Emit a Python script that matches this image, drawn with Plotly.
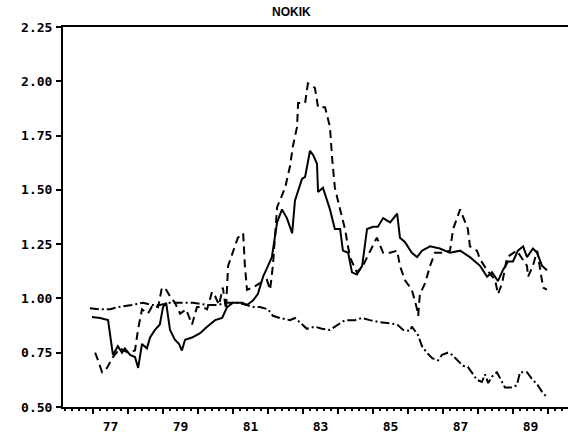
import plotly.graph_objects as go

# ---- data (year as decimal, ratio value) ----
solid_x = [76.97, 77.20, 77.43, 77.51, 77.57, 77.71, 77.83, 77.91, 78.06, 78.20, 78.29, 78.40, 78.54, 78.63,
           78.77, 78.91, 79.00, 79.09, 79.20, 79.34, 79.46, 79.54, 79.63, 79.83, 80.06, 80.26, 80.49, 80.69,
           80.83, 81.00, 81.26, 81.40, 81.57, 81.71, 81.86, 82.00, 82.11, 82.26, 82.40, 82.54, 82.69, 82.77,
           82.97, 83.06, 83.20, 83.29, 83.40, 83.43, 83.57, 83.77, 83.91, 84.06, 84.14, 84.29, 84.40, 84.54,
           84.69, 84.83, 85.00, 85.14, 85.29, 85.49, 85.69, 85.77, 85.91, 86.11, 86.26, 86.40, 86.63, 86.91,
           87.20, 87.49, 87.77, 88.06, 88.26, 88.40, 88.57, 88.71, 88.86, 89.00, 89.14, 89.29, 89.40, 89.57,
           89.69, 89.83, 89.97]
solid_y = [0.915, 0.91, 0.90, 0.80, 0.74, 0.78, 0.75, 0.77, 0.74, 0.73, 0.68, 0.79, 0.77, 0.82,
           0.855, 0.88, 0.96, 0.98, 0.855, 0.81, 0.79, 0.76, 0.81, 0.82, 0.84, 0.87, 0.90, 0.91,
           0.96, 0.98, 0.98, 0.97, 0.99, 1.02, 1.10, 1.15, 1.19, 1.35, 1.41, 1.37, 1.30, 1.45,
           1.55, 1.56, 1.68, 1.66, 1.62, 1.49, 1.51, 1.41, 1.32, 1.32, 1.22, 1.21, 1.12, 1.11,
           1.15, 1.32, 1.33, 1.33, 1.37, 1.35, 1.39, 1.28, 1.26, 1.21, 1.19, 1.22, 1.24, 1.23,
           1.21, 1.22, 1.19, 1.15, 1.10, 1.12, 1.08, 1.13, 1.17, 1.17, 1.22, 1.24, 1.19, 1.23,
           1.21, 1.15, 1.13]

dash_x = [77.06, 77.11, 77.26, 77.40, 77.57, 77.77, 78.00, 78.20, 78.29, 78.40, 78.57, 78.71, 78.86, 78.97,
          79.09, 79.20, 79.34, 79.49, 79.66, 79.83, 79.97, 80.14, 80.26, 80.40, 80.49, 80.60, 80.71, 80.80,
          80.86, 81.00, 81.14, 81.29, 81.34, 81.40, 81.57, 81.77, 81.97, 82.06, 82.14, 82.26, 82.49, 82.63,
          82.71, 82.83, 82.86, 83.06, 83.14, 83.34, 83.43, 83.63, 83.77, 83.83, 83.91, 84.06, 84.20, 84.34,
          84.54, 84.71, 85.00, 85.11, 85.29, 85.49, 85.69, 85.77, 85.91, 86.11, 86.26, 86.29, 86.34, 86.49,
          86.63, 86.77, 86.97, 87.20, 87.29, 87.49, 87.71, 87.77, 87.97, 88.06, 88.26, 88.49, 88.57, 88.69,
          88.83, 89.11, 89.40, 89.43, 89.57, 89.69, 89.86, 89.97]
dash_y = [0.75, 0.73, 0.66, 0.68, 0.73, 0.77, 0.75, 0.76, 0.86, 0.95, 0.93, 0.97, 0.96, 1.05,
          1.04, 1.01, 0.98, 0.93, 0.95, 0.88, 0.96, 0.96, 0.95, 1.03, 1.01, 0.97, 1.05, 0.95,
          1.15, 1.22, 1.28, 1.30, 1.15, 1.04, 1.05, 1.07, 1.085, 1.04, 1.15, 1.42, 1.51, 1.61,
          1.70, 1.79, 1.90, 1.90, 1.99, 1.97, 1.88, 1.88, 1.79, 1.65, 1.51, 1.41, 1.32, 1.19,
          1.12, 1.15, 1.24, 1.28, 1.21, 1.21, 1.22, 1.15, 1.085, 1.04, 0.95, 0.92, 1.02, 1.07,
          1.15, 1.21, 1.21, 1.22, 1.32, 1.41, 1.32, 1.24, 1.22, 1.18, 1.13, 1.085, 1.02, 1.07,
          1.19, 1.22, 1.15, 1.10, 1.15, 1.22, 1.05, 1.04]

dashdot_x = [76.91, 77.20, 77.49, 77.71, 78.11, 78.43, 78.69, 78.91, 79.20, 79.57, 79.86, 80.26, 80.54, 80.83,
             81.11, 81.40, 81.57, 81.77, 82.00, 82.14, 82.34, 82.63, 82.77, 82.91, 83.11, 83.34, 83.54, 83.77,
             84.00, 84.20, 84.49, 84.69, 84.91, 85.20, 85.49, 85.69, 85.86, 86.06, 86.11, 86.29, 86.40, 86.54,
             86.69, 86.86, 86.97, 87.14, 87.26, 87.43, 87.57, 87.71, 87.83, 87.97, 88.11, 88.20, 88.29, 88.40,
             88.54, 88.63, 88.77, 88.97, 89.11, 89.20, 89.40, 89.54, 89.71, 89.83, 89.97]
dashdot_y = [0.955, 0.95, 0.95, 0.96, 0.97, 0.98, 0.97, 0.97, 0.98, 0.98, 0.98, 0.97, 0.97, 0.98,
             0.98, 0.97, 0.96, 0.96, 0.95, 0.92, 0.91, 0.90, 0.91, 0.89, 0.86, 0.87, 0.86, 0.855,
             0.88, 0.90, 0.90, 0.91, 0.90, 0.89, 0.885, 0.88, 0.855, 0.85, 0.87, 0.83, 0.78, 0.75,
             0.725, 0.715, 0.74, 0.75, 0.74, 0.71, 0.69, 0.685, 0.655, 0.625, 0.615, 0.65, 0.61, 0.64,
             0.66, 0.63, 0.59, 0.59, 0.60, 0.66, 0.66, 0.63, 0.60, 0.57, 0.545]

label_pos = [77.5, 79.5, 81.5, 83.5, 85.5, 87.5, 89.5]
label_text = ["77", "79", "81", "83", "85", "87", "89"]
year_ticks = list(range(77, 91))
y_ticks = [0.50, 0.75, 1.00, 1.25, 1.50, 1.75, 2.00, 2.25]
y_text = ["0.50", "0.75", "1.00", "1.25", "1.50", "1.75", "2.00", "2.25"]
title_text = "NOKIK"

W, H = 571, 443
L, R, T, B = 63, 3, 27, 36
x0 = 77 + (L - 93) / 35.0
x1 = 77 + (W - R - 93) / 35.0

fig = go.Figure()
fig.add_trace(go.Scatter(x=solid_x, y=solid_y, mode="lines",
                         line=dict(color="black", width=2, dash="solid")))
fig.add_trace(go.Scatter(x=dash_x, y=dash_y, mode="lines",
                         line=dict(color="black", width=2, dash="8px,5px")))
fig.add_trace(go.Scatter(x=dashdot_x, y=dashdot_y, mode="lines",
                         line=dict(color="black", width=2, dash="9px,3px,2px,3px")))
# invisible trace to anchor tick axis
fig.add_trace(go.Scatter(x=[x0, x1], y=[0.5, 0.5], mode="lines", xaxis="x2",
                         line=dict(width=0), hoverinfo="skip", opacity=0))

tickfont = dict(family="DejaVu Sans Mono", size=13, color="black", weight="bold")

fig.update_layout(
    width=W, height=H,
    margin=dict(l=L, r=R, t=T, b=B),
    paper_bgcolor="white", plot_bgcolor="white",
    showlegend=False,
    xaxis=dict(range=[x0, x1], tickmode="array", tickvals=label_pos, ticktext=label_text,
               ticks="", showgrid=False, zeroline=False, showline=True, linecolor="black",
               linewidth=2, mirror=True, tickfont=tickfont, ticklabelstandoff=6),
    xaxis2=dict(range=[x0, x1], overlaying="x", side="bottom", anchor="y",
                tickmode="array", tickvals=year_ticks, showticklabels=False,
                ticks="outside", ticklen=6, tickwidth=2, tickcolor="black",
                showgrid=False, zeroline=False, showline=False,
                minor=dict(tick0=77, dtick=0.2, ticks="outside", ticklen=3, tickwidth=1.5,
                           tickcolor="black", showgrid=False)),
    yaxis=dict(range=[0.5, 2.25], tickmode="array", tickvals=y_ticks, ticktext=y_text,
               ticks="outside", ticklen=5, tickwidth=2, tickcolor="black",
               showgrid=False, zeroline=False, showline=True, linecolor="black", linewidth=2,
               tickfont=tickfont, ticklabelstandoff=1),
    annotations=[dict(text=title_text, x=(291 - L) / (W - L - R), y=1.0, xref="paper", yref="paper",
                      xanchor="center", yanchor="bottom", yshift=6, showarrow=False,
                      font=dict(family="Liberation Sans", size=12, color="black", weight="bold"))],
)

fig.write_html("out.html", config={"displayModeBar": False},
               post_script="document.body.style.margin='0';")
